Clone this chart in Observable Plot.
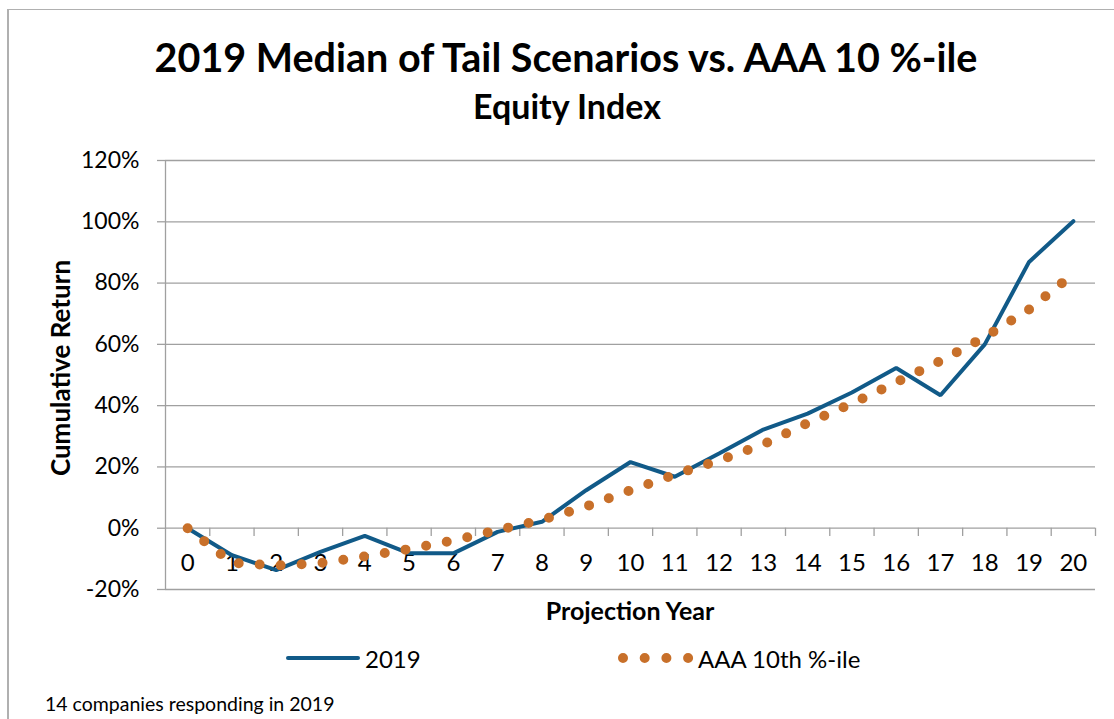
<!DOCTYPE html>
<html>
<head>
<meta charset="utf-8">
<script src="https://cdn.jsdelivr.net/npm/d3@7"></script>
<script src="https://cdn.jsdelivr.net/npm/@observablehq/plot@0.6"></script>
<style>
  body { margin: 0; background: #fff; }
  #wrap { position: relative; width: 1114px; height: 719px; overflow: hidden; font-family: Lato, "Open Sans", sans-serif; color: #000; background: #fff; }
  #frame { position: absolute; left: 7px; top: 9px; width: 1200px; height: 800px; border-top: 1.5px solid #b0b0b0; border-left: 2px solid #b0b0b0; }
  .abs { position: absolute; white-space: nowrap; }
  #title { left: 0; width: 1132px; top: 57px; transform: translateY(-50%); text-align: center; font-weight: 700; font-size: 39.5px; line-height: 44px; }
  #subtitle { left: 0; width: 1134px; top: 106px; transform: translateY(-50%); text-align: center; font-weight: 700; font-size: 34px; line-height: 38px; }
  #ylabel { left: 60px; top: 368px; transform: translate(-50%, -50%) rotate(-90deg); font-weight: 700; font-size: 26px; }
  #xlabel { left: 630px; top: 610px; transform: translate(-50%, -50%); font-weight: 700; font-size: 25px; }
  #chart { position: absolute; left: 0; top: 130px; }
  .leg { top: 658px; transform: translateY(-50%); font-size: 24px; }
  #foot { left: 45px; top: 703px; transform: translateY(-50%); font-size: 19.5px; }
</style>
</head>
<body>
<div id="wrap">
  <div id="frame"></div>
  <div id="title" class="abs">2019 Median of Tail Scenarios vs. AAA 10 %-ile</div>
  <div id="subtitle" class="abs">Equity Index</div>
  <div id="ylabel" class="abs">Cumulative Return</div>
  <div id="chart"></div>
  <div id="xlabel" class="abs">Projection Year</div>
  <svg class="abs" style="left:280px;top:648px" width="80" height="20"><line x1="8" x2="78" y1="10" y2="10" stroke="#115a88" stroke-width="4" stroke-linecap="round"/></svg>
  <div class="abs leg" style="left:365px">2019</div>
  <svg class="abs" style="left:610px;top:648px" width="90" height="20"><line x1="13" x2="80" y1="10" y2="10" stroke="#c8702a" stroke-width="10" stroke-linecap="round" stroke-dasharray="0 21.7"/></svg>
  <div class="abs leg" style="left:698px">AAA 10th %-ile</div>
  <div id="foot" class="abs">14 companies responding in 2019</div>
</div>
<script>
// Projection years (categories)
const years = [0, 1, 2, 3, 4, 5, 6, 7, 8, 9, 10, 11, 12, 13, 14, 15, 16, 17, 18, 19, 20];
// 2019 median of tail scenarios (cumulative return)
const median2019 = [0, -0.088, -0.137, -0.077, -0.025, -0.082, -0.082, -0.012, 0.021, 0.124, 0.216,
                    0.168, 0.244, 0.322, 0.374, 0.443, 0.523, 0.434, 0.600, 0.869, 1.002];
// AAA 10th percentile
const aaa10 = [0, -0.113, -0.122, -0.114, -0.092, -0.068, -0.040, -0.006, 0.027, 0.071, 0.124,
               0.175, 0.221, 0.274, 0.343, 0.407, 0.476, 0.546, 0.624, 0.714, 0.830];
// Y tick values
const yTicks = [-0.2, 0, 0.2, 0.4, 0.6, 0.8, 1.0, 1.2];
// Category boundaries for x tick marks
const xBoundaries = [0.5, 1.5, 2.5, 3.5, 4.5, 5.5, 6.5, 7.5, 8.5, 9.5, 10.5, 11.5, 12.5, 13.5, 14.5, 15.5, 16.5, 17.5, 18.5, 19.5, 20.5];

const rows = years.map((yr, i) => ({year: yr, v2019: median2019[i], aaa: aaa10[i]}));
const grey = "#a0a0a0";

const chart = Plot.plot({
  width: 1114,
  height: 510,
  marginLeft: 165,
  marginRight: 19,
  marginTop: 30,
  marginBottom: 51,
  x: {domain: [-0.5, 20.5], axis: null},
  y: {domain: [-0.2, 1.2], axis: null},
  style: {fontFamily: "Lato, 'Open Sans', sans-serif", background: "transparent", color: "#000"},
  marks: [
    Plot.gridY(yTicks, {stroke: grey, strokeOpacity: 1, strokeWidth: 1.3}),
    Plot.axisY(yTicks, {
      tickFormat: d => Math.round(d * 100) + "%",
      tickSize: 8, tickPadding: 18, stroke: grey, strokeWidth: 1.3, fontSize: 23, fill: "#000"
    }),
    Plot.ruleX([-0.5], {stroke: grey, strokeWidth: 1.3}),
    Plot.ruleX(xBoundaries, {y1: 0, y2: -0.027, stroke: grey, strokeWidth: 1.3}),
    Plot.text(years, {x: d => d, y: 0, dy: 35, text: d => String(d), fontSize: 24, fill: "#000"}),
    Plot.line(rows, {x: "year", y: "v2019", stroke: "#115a88", strokeWidth: 4, strokeLinejoin: "miter"}),
    Plot.line(rows, {x: "year", y: "aaa", stroke: "#c8702a", strokeWidth: 10, strokeDasharray: "0 21", strokeLinecap: "round"})
  ]
});
document.getElementById("chart").appendChild(chart);
</script>
</body>
</html>
